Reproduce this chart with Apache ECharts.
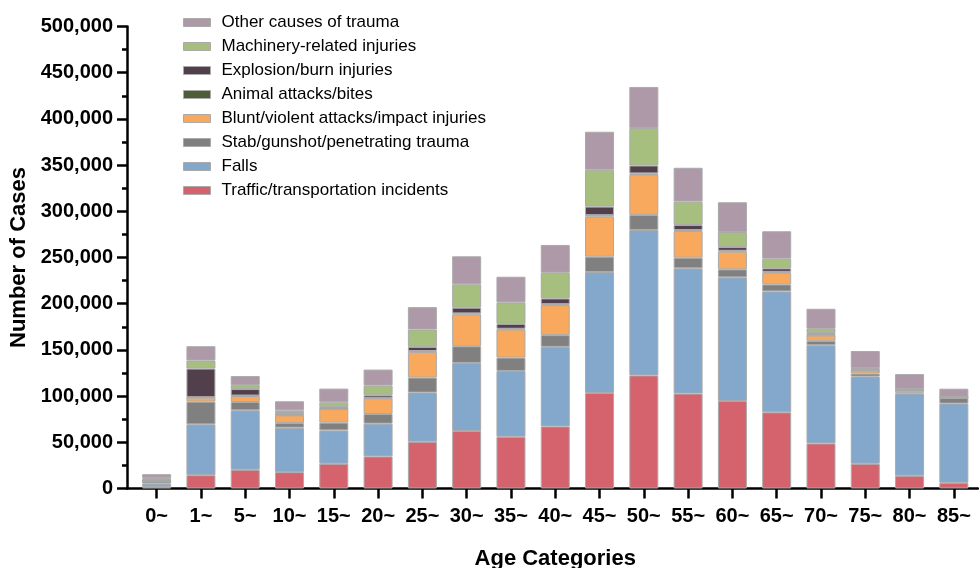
<!DOCTYPE html>
<html>
<head>
<meta charset="utf-8">
<script src="https://cdn.jsdelivr.net/npm/echarts@6/dist/echarts.min.js"></script>
<style>
  html, body { margin: 0; padding: 0; background: #fff; }
  #main { width: 979px; height: 568px; }
</style>
</head>
<body>
<div id="main"></div>
<script>
const ageCategories = ['0~', '1~', '5~', '10~', '15~', '20~', '25~', '30~', '35~', '40~', '45~', '50~', '55~', '60~', '65~', '70~', '75~', '80~', '85~']

const traffic = [1500, 14400, 20300, 17700, 26800, 34700, 50600, 62200, 56000, 67200, 103400, 122400, 102700, 94700, 82400, 48800, 26800, 13800, 6200]
const falls = [3800, 55000, 64300, 48100, 36100, 35500, 53200, 73700, 71200, 86100, 130900, 157400, 135600, 133800, 130900, 106300, 94300, 88900, 85700]
const stab = [2300, 24600, 9000, 5000, 8400, 10400, 16300, 18100, 14500, 12700, 16600, 16300, 11500, 8700, 7600, 4700, 3300, 1400, 6000]
const blunt = [300, 4300, 6500, 8400, 14700, 17000, 27700, 34500, 30400, 32500, 43400, 43400, 28900, 19100, 12600, 5800, 3300, 2500, 500]
const animal = [100, 500, 500, 300, 300, 500, 1000, 1000, 800, 1000, 1500, 1500, 1000, 1000, 1000, 500, 300, 200, 100]
const explosion = [2200, 31000, 7000, 2200, 2000, 2800, 4500, 6200, 5300, 6200, 9300, 8600, 5500, 4000, 3800, 2300, 1500, 500, 300]
const machinery = [1000, 8700, 4300, 2900, 5000, 10500, 18800, 25300, 23200, 27800, 39800, 40500, 25300, 16300, 10400, 4400, 800, 500, 200]
const other = [4300, 15500, 9800, 9800, 14800, 17300, 24200, 30300, 27800, 30100, 41200, 44500, 36600, 32200, 29700, 21700, 18500, 16000, 9000]

const seriesNames = [
    'Traffic/transportation incidents',
    'Falls',
    'Stab/gunshot/penetrating trauma',
    'Blunt/violent attacks/impact injuries',
    'Animal attacks/bites',
    'Explosion/burn injuries',
    'Machinery-related injuries',
    'Other causes of trauma'
]
const seriesData = [traffic, falls, stab, blunt, animal, explosion, machinery, other]
const seriesColors = ['#d4636d', '#84a8cc', '#808080', '#f8a95e', '#4b5e35', '#523f4c', '#a6bf7e', '#ad99a8']

const fontFamily = 'Arial, "Liberation Sans", Helvetica, sans-serif'

var myChart = echarts.init(document.getElementById('main'))

let series = seriesData.map((values, i) => {
    return {
        name: seriesNames[i],
        type: 'bar',
        stack: 'total',
        barWidth: 29,
        data: values,
        itemStyle: {
            color: seriesColors[i],
            borderColor: '#aaaaaa',
            borderWidth: 1
        },
        emphasis: { disabled: true }
    }
})

option = {
    animation: false,
    textStyle: { fontFamily: fontFamily },
    legend: {
        orient: 'vertical',
        left: 178,
        top: 9,
        itemWidth: 27,
        itemHeight: 8,
        itemGap: 7,
        icon: 'rect',
        data: seriesNames.slice().reverse(),
        itemStyle: { borderColor: '#aaaaaa', borderWidth: 1 },
        textStyle: {
            fontFamily: fontFamily,
            fontSize: 17,
            lineHeight: 17,
            color: '#000',
            padding: [0, 0, 0, 6]
        }
    },
    grid: [
        { left: 134.5, right: 3, top: 26.5, bottom: 79.5, outerBoundsMode: 'none' },
        // second grid only carries the long x axis line that runs from the y axis
        { left: 127, right: 1, top: 26.5, bottom: 79.5, outerBoundsMode: 'none' }
    ],
    xAxis: [
        {
            type: 'category',
            gridIndex: 0,
            data: ageCategories,
            name: 'Age Categories',
            nameLocation: 'middle',
            nameGap: 59,
            nameTextStyle: { fontFamily: fontFamily, fontSize: 22, fontWeight: 'bold', color: '#000' },
            axisLine: { show: false },
            axisTick: { show: true, alignWithLabel: true, length: 10, lineStyle: { color: '#000', width: 2.5 } },
            axisLabel: { margin: 18, fontFamily: fontFamily, fontSize: 20, fontWeight: 'bold', color: '#000' }
        },
        {
            type: 'value',
            gridIndex: 1,
            min: 0,
            max: 1,
            axisLine: { show: true, lineStyle: { color: '#000', width: 2.5 } },
            axisTick: { show: false },
            axisLabel: { show: false },
            splitLine: { show: false }
        }
    ],
    yAxis: [
        {
            type: 'value',
            gridIndex: 0,
            min: 0,
            max: 500000,
            interval: 50000,
            offset: 7.5,
            name: 'Number of Cases',
            nameLocation: 'middle',
            nameGap: 91,
            nameTextStyle: { fontFamily: fontFamily, fontSize: 22, fontWeight: 'bold', color: '#000' },
            axisLine: { show: true, lineStyle: { color: '#000', width: 2.5 } },
            axisTick: { show: true, length: 10, lineStyle: { color: '#000', width: 2.5 } },
            minorTick: { show: true, splitNumber: 2, length: 5, lineStyle: { color: '#000', width: 2.5 } },
            splitLine: { show: false },
            axisLabel: {
                margin: 14,
                fontFamily: fontFamily,
                fontSize: 20,
                fontWeight: 'bold',
                color: '#000',
                formatter: (v) => v.toLocaleString('en-US')
            }
        },
        {
            type: 'value',
            gridIndex: 1,
            show: false
        }
    ],
    series: series
}

myChart.setOption(option)
</script>
</body>
</html>
